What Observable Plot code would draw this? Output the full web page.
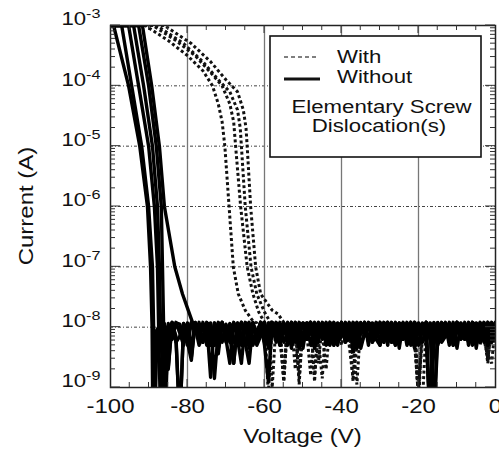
<!DOCTYPE html>
<html><head><meta charset="utf-8">
<script src="https://cdn.jsdelivr.net/npm/d3@7"></script>
<script src="https://cdn.jsdelivr.net/npm/@observablehq/plot@0.6"></script>
<style>
html,body{margin:0;padding:0;background:#fff;}
#chart svg{display:block;}
</style></head>
<body><div id="chart"></div>
<script>
// ---------- axis ticks ----------
const xTickValues = [-100, -80, -60, -40, -20, 0];
const xGridValues = [-80, -60, -40, -20];
const yTickValues = [1e-9, 1e-8, 1e-7, 1e-6, 1e-5, 1e-4, 1e-3];
const yGridValues = [1e-8, 1e-7, 1e-6, 1e-5, 1e-4];
const legendLabels = ["With", "Without"];
const legendTitle = ["Elementary Screw", "Dislocation(s)"];

// ---------- "Without" curves: [voltage, log10(current)] ----------
const without1 = [[-100,-3],[-99.2,-3],[-95.3,-4],[-92.4,-5],[-90.4,-6],[-89.6,-7],[-89.2,-8]];
const without2 = [[-100,-3],[-97.1,-3],[-94.5,-4],[-91.9,-5],[-90.1,-6],[-89.1,-7],[-88.8,-8],[-88.5,-9.6]];
const without3 = [[-100,-3],[-95.3,-3],[-92.7,-4],[-90.1,-5],[-88.6,-6],[-87.8,-7],[-87.5,-8]];
const without4 = [[-100,-3],[-94,-3],[-91.4,-4],[-89.1,-5],[-87.8,-6],[-87.3,-7],[-87,-8]];
const without5 = [[-100,-3],[-92.7,-3],[-90.1,-4],[-88.1,-5],[-86.8,-6],[-86.5,-7],[-86.2,-8],[-85.8,-9.6]];
const without6 = [[-100,-3],[-91.7,-3],[-89.3,-4],[-87.3,-5],[-86,-6],[-83.3,-7],[-81.3,-7.45],[-78.7,-7.92]];

// noise floor, log10(current) at 1 V steps, starting voltage given
const without1FloorStart = -89;
const without1Floor = [-9.6,-8.05,-7.95,-8.2,-8.7,-7.93,-8.15,-9.6,-7.94,-8.25,
 -8.55,-7.92,-8.15,-7.95,-8.3,-7.93,-8.85,-8.05,-7.92,-8.2,
 -8.6,-7.94,-8.1,-7.92,-8.25,-8.6,-7.93,-8.15,-7.92,-8.3,
 -8.9,-7.93,-8.2,-7.92,-8.1,-7.95,-8.35,-7.92,-8.15,-7.93,
 -8.2,-7.92,-8.3,-7.94,-8.1,-7.92,-8.25,-7.93,-8.15,-7.92,
 -8.2,-7.94,-8.4,-7.93,-8.1,-7.92,-8.3,-7.93,-8.15,-7.92,
 -8.25,-7.93,-8.1,-7.92,-8.35,-7.94,-8.15,-7.92,-8.2,-7.93,
 -8.1,-7.92,-9.6,-7.94,-8.25,-7.92,-8.15,-7.93,-8.3,-7.92,
 -8.1,-7.94,-8.2,-7.92,-8.35,-7.93,-8.15,-7.92,-8.25,-7.93];
const without2FloorStart = -88;
const without2Floor = [-8.3,-7.93,-9.5,-8.1,-7.92,-8.25,-8.15,-7.94,-8.05,-8.3,
 -7.93,-8.1,-8.2,-7.92,-8.3,-8.1,-7.93,-8.25,-7.95,-8.15,
 -8.6,-7.93,-8.2,-8.05,-7.92,-8.3,-8.1,-7.94,-8.2,-8.15,
 -7.92,-8.25,-8.05,-7.93,-8.3,-8.1,-7.92,-8.2,-8.15,-7.94,
 -8.3,-8.05,-7.92,-8.2,-8.1,-7.93,-8.3,-8.15,-7.92,-8.25,
 -8.05,-7.94,-8.35,-8.1,-7.92,-8.2,-8.15,-7.93,-8.3,-8.05,
 -7.92,-8.25,-8.1,-7.94,-8.2,-8.15,-7.92,-8.3,-8.05,-7.93,
 -8.2,-9.5,-7.92,-8.3,-8.1,-7.94,-8.25,-8.05,-7.92,-8.2,
 -8.15,-7.93,-8.3,-8.1,-7.92,-8.25,-8.05,-7.94,-8.2];
const without3FloorStart = -87;
const without3Floor = [-9.5,-7.94,-8.67,-7.92,-8.2,-9.6,-7.95,-8.3,-7.93,-8.1,
 -7.92,-8.25,-7.94,-8.83,-7.93,-8.44,-7.92,-8.15,-7.95,-8.6,
 -7.93,-8.2,-7.92,-8.35,-7.94,-8.1,-7.92,-8.25,-7.93,-8.15,
 -7.92,-8.3,-7.94,-8.1,-7.93,-8.2,-7.92,-8.35,-7.93,-8.1,
 -7.92,-8.25,-7.94,-8.15,-7.92,-8.3,-7.93,-8.1,-7.92,-8.2,
 -7.93,-8.35,-7.92,-8.15,-7.94,-8.25,-7.92,-8.1,-7.93,-8.3,
 -7.92,-8.15,-7.94,-8.2,-7.93,-8.3,-7.92,-8.1,-7.94,-8.25,
 -7.93,-9.6,-7.92,-8.2,-7.94,-8.1,-7.92,-8.35,-7.93,-8.15,
 -7.92,-8.25,-7.94,-8.1,-7.93,-8.3,-7.92,-8.05];
const without4FloorStart = -86;
const without4Floor = [-7.96,-8.1,-8.2,-7.93,-7.95,-8.25,-8.1,-7.92,-8.0,-8.3,
 -8.15,-7.93,-7.96,-8.2,-8.35,-7.94,-8.05,-8.25,-7.92,-8.1,
 -8.3,-7.93,-7.95,-8.2,-8.1,-7.92,-8.0,-8.3,-8.15,-7.93,
 -7.96,-8.25,-8.1,-7.92,-8.05,-8.35,-8.1,-7.93,-7.95,-8.2,
 -8.15,-7.92,-8.0,-8.3,-8.1,-7.94,-7.96,-8.25,-8.15,-7.92,
 -8.05,-8.35,-8.1,-7.93,-7.95,-8.2,-8.3,-7.92,-8.0,-8.25,
 -8.1,-7.93,-7.96,-8.3,-8.15,-7.92,-8.05,-8.25,-8.1,-7.94,
 -9.5,-8.2,-7.93,-7.96,-8.3,-8.1,-7.92,-8.05,-8.2,-8.1,
 -7.93,-7.95,-8.25,-8.15,-7.92,-8.0,-8.1];
const without5FloorStart = -85;
const without5Floor = [-7.94,-8.2,-7.92,-8.1,-8.3,-7.93,-8.5,-7.92,-8.15,-8.25,
 -7.93,-8.05,-8.3,-7.92,-8.2,-8.1,-7.94,-8.25,-8.05,-7.92,
 -8.3,-8.15,-7.93,-8.2,-8.05,-7.92,-8.35,-8.1,-7.94,-8.2,
 -8.05,-7.92,-8.3,-8.15,-7.93,-8.25,-8.1,-7.92,-8.2,-8.05,
 -7.94,-8.3,-8.1,-7.92,-8.25,-8.15,-7.93,-8.2,-8.05,-7.92,
 -8.3,-8.1,-7.94,-8.2,-8.15,-7.92,-8.25,-8.05,-7.93,-8.3,
 -8.1,-7.92,-8.2,-8.15,-7.94,-8.3,-8.05,-7.92,-8.2,-8.1,
 -7.93,-8.25,-8.15,-7.92,-8.3,-8.05,-7.94,-8.2,-8.1,-7.92,
 -8.25,-8.15,-7.93,-8.3,-8.05,-7.92];
const without6FloorStart = -78;
const without6Floor = [-7.95,-8.2,-7.92,-8.1,-8.3,-7.93,-8.15,-7.92,-8.25,-8.05,
 -7.93,-8.2,-8.6,-7.94,-8.1,-7.92,-8.3,-8.15,-7.93,-8.2,
 -7.92,-8.1,-8.3,-7.94,-8.15,-7.92,-8.25,-8.05,-7.93,-8.2,
 -7.92,-8.35,-8.1,-7.93,-8.2,-7.92,-8.15,-8.3,-7.94,-8.1,
 -7.92,-8.2,-8.3,-7.93,-8.1,-7.92,-8.25,-8.15,-7.94,-8.2,
 -7.92,-8.1,-8.3,-7.93,-8.2,-7.92,-8.15,-8.35,-7.94,-8.1,
 -7.92,-9.6,-8.3,-7.93,-8.15,-7.92,-8.25,-8.1,-7.94,-8.2,
 -7.92,-8.3,-8.1,-7.93,-8.2,-7.92,-8.15,-8.25,-7.94];

// ---------- "With" curves ----------
const with1 = [[-100,-3],[-91,-3],[-85,-3.25],[-80,-3.5],[-76,-3.75],[-73.5,-4],[-72,-4.3],[-71,-4.6],[-70.3,-5],[-69.2,-6],[-68.1,-7],[-66.8,-7.45],[-65,-7.72],[-63,-7.9]];
const with2 = [[-100,-3],[-89,-3],[-83,-3.25],[-78,-3.5],[-74,-3.78],[-71,-4],[-69,-4.3],[-68,-4.6],[-67.5,-5],[-66.2,-6],[-64.5,-7],[-63,-7.45],[-61.5,-7.75],[-60,-7.92]];
const with3 = [[-100,-3],[-88,-3],[-81,-3.3],[-76,-3.6],[-72,-3.9],[-69,-4.1],[-67,-4.4],[-66.3,-4.7],[-66,-5],[-65,-6],[-63.5,-7],[-62,-7.45],[-60,-7.75],[-58.5,-7.92]];
const with4 = [[-100,-3],[-86,-3],[-79,-3.3],[-74,-3.6],[-70,-3.9],[-67,-4.1],[-65.5,-4.4],[-64.8,-4.7],[-64.5,-5],[-63.6,-6],[-62.3,-7],[-61,-7.45],[-58,-7.72],[-56.5,-7.78],[-55,-7.92]];

const with1FloorStart = -62;
const with1Floor = [-7.93,-8.1,-7.92,-9.1,-7.95,-8.2,-7.93,-8.9,-7.92,-8.15,
 -7.94,-8.85,-7.92,-8.2,-7.93,-8.8,-7.92,-8.1,-7.94,-8.25,
 -7.92,-8.1,-7.93,-8.2,-7.92,-8.3,-8.95,-7.93,-8.1,-7.92,
 -8.2,-7.94,-8.1,-7.92,-8.3,-7.93,-8.15,-7.92,-8.2,-7.94,
 -8.1,-7.92,-9.3,-7.93,-8.2,-7.92,-8.1,-7.94,-8.25,-7.92,
 -8.15,-7.93,-8.2,-7.92,-8.1,-7.94,-8.3,-7.92,-8.15,-7.93,
 -8.55,-7.92,-8.1];
const with2FloorStart = -59;
const with2Floor = [-7.92,-9.0,-7.93,-8.2,-8.8,-7.92,-8.1,-7.94,-8.95,-7.92,
 -8.2,-7.93,-8.9,-7.92,-8.1,-8.7,-7.93,-8.2,-7.92,-8.15,
 -7.94,-8.3,-8.85,-7.92,-8.1,-7.93,-8.25,-7.92,-8.1,-7.94,
 -8.2,-7.92,-8.1,-7.93,-8.3,-7.92,-8.15,-7.94,-8.2,-9.2,
 -9.3,-7.93,-8.1,-7.92,-8.25,-7.94,-8.1,-7.92,-8.2,-7.93,
 -8.15,-7.92,-8.3,-7.94,-8.1,-7.92,-8.2,-8.5,-7.93,-8.1];
const with3FloorStart = -57;
const with3Floor = [-7.93,-8.1,-8.9,-7.92,-8.2,-7.94,-8.75,-7.92,-8.1,-8.8,
 -7.93,-8.2,-8.85,-7.92,-8.1,-7.94,-8.25,-7.92,-8.1,-7.93,
 -8.9,-8.3,-7.92,-8.15,-7.94,-8.2,-7.92,-8.1,-7.93,-8.25,
 -7.92,-8.1,-7.94,-8.2,-7.92,-8.15,-7.93,-9.0,-8.2,-7.92,
 -8.1,-7.94,-8.25,-7.92,-8.1,-7.93,-8.2,-7.92,-8.15,-7.94,
 -8.1,-7.92,-8.25,-7.93,-8.1,-8.6,-7.92,-8.15];
const with4FloorStart = -54;
const with4Floor = [-8.1,-7.93,-8.7,-7.92,-8.2,-7.94,-8.1,-7.92,-8.6,-7.93,
 -8.2,-7.92,-8.1,-7.94,-8.3,-7.92,-8.15,-8.5,-7.93,-8.1,
 -7.92,-8.2,-7.94,-8.1,-7.92,-8.25,-7.93,-8.1,-7.92,-8.2,
 -7.94,-8.1,-7.92,-8.3,-9.1,-7.93,-8.15,-7.92,-8.2,-7.94,
 -8.1,-7.92,-8.25,-7.93,-8.1,-7.92,-8.2,-7.94,-8.1,-7.92,
 -8.3,-7.93,-8.45,-8.6,-7.92];

// ---------- build tables ----------
function build(name, trans, floorStart, floor) {
  const pts = trans.map(([v, e]) => ({v, i: Math.pow(10, e), curve: name}));
  if (floor) floor.forEach((e, k) => pts.push({v: floorStart + k, i: Math.pow(10, e), curve: name}));
  return pts;
}
const withoutData = [
  ...build("w1", without1, without1FloorStart, without1Floor),
  ...build("w2", without2, without2FloorStart, without2Floor),
  ...build("w3", without3, without3FloorStart, without3Floor),
  ...build("w4", without4, without4FloorStart, without4Floor),
  ...build("w5", without5, without5FloorStart, without5Floor),
  ...build("w6", without6, without6FloorStart, without6Floor)
];
const withData = [
  ...build("d1", with1, with1FloorStart, with1Floor),
  ...build("d2", with2, with2FloorStart, with2Floor),
  ...build("d3", with3, with3FloorStart, with3Floor),
  ...build("d4", with4, with4FloorStart, with4Floor)
];

const FONT = "'Liberation Sans', Arial, Helvetica, sans-serif";
const STRETCH = 1.2;

const plot = Plot.plot({
  width: 499, height: 452,
  marginLeft: 110, marginRight: 4, marginTop: 25, marginBottom: 65,
  style: {fontFamily: FONT, background: "#fff", color: "#111", overflow: "visible"},
  x: {domain: [-100, 0]},
  y: {type: "log", domain: [1e-9, 1e-3]},
  marks: [
    Plot.gridY(yGridValues, {stroke: "#444", strokeOpacity: 1, strokeWidth: 1, strokeDasharray: "3,2,1,2"}),
    Plot.gridX(xGridValues, {stroke: "#777", strokeOpacity: 1, strokeWidth: 1.3}),
    Plot.line(withData, {x: "v", y: "i", z: "curve", stroke: "#111", strokeWidth: 3, strokeDasharray: "3,2.6",
      strokeLinecap: "butt", strokeLinejoin: "miter", clip: true}),
    Plot.line(withoutData, {x: "v", y: "i", z: "curve", stroke: "#000", strokeWidth: 3.4, clip: true}),
    Plot.axisX(xTickValues, {anchor: "bottom", tickSize: 0, tickPadding: 11, fontSize: 20, label: null, tickFormat: d => String(d)}),
    Plot.axisY(yTickValues, {anchor: "left", tickSize: 0, tickPadding: 10, fontSize: 18.5, dy: -6, label: null,
      tickFormat: d => String(Math.round(Math.log10(d)))}),
    Plot.frame({stroke: "#222", strokeWidth: 1.5})
  ]
});
document.getElementById("chart").appendChild(plot);

const svg = d3.select(plot);
const sx = plot.scale("x"), sy = plot.scale("y");

// superscript exponents on y tick labels
svg.selectAll('g[aria-label="y-axis tick label"] text').each(function () {
  const exp = this.textContent;
  const t = d3.select(this);
  t.text(null);
  t.append("tspan").text("10");
  t.append("tspan").attr("font-size", 13.5).attr("dy", -7).text(exp);
});

// inward ticks
const tickG = svg.append("g").attr("stroke", "#333").attr("stroke-width", 1);
const [x0, x1] = sx.range;
const [yb, yt] = sy.range;
for (let v = -95; v < 0; v += 5) {
  const px = sx.apply(v);
  const len = v % 20 === 0 ? 8 : 5;
  tickG.append("line").attr("x1", px).attr("x2", px).attr("y1", yb).attr("y2", yb - len);
  tickG.append("line").attr("x1", px).attr("x2", px).attr("y1", yt).attr("y2", yt + len);
}
for (let n = -9; n <= -3; n++) {
  for (let m = 1; m <= 9; m++) {
    const val = m * Math.pow(10, n);
    if (val > 1.0001e-3) break;
    const py = sy.apply(val);
    const len = m === 1 ? 10 : 5;
    tickG.append("line").attr("x1", x0).attr("x2", x0 + len).attr("y1", py).attr("y2", py);
    tickG.append("line").attr("x1", x1).attr("x2", x1 - len).attr("y1", py).attr("y2", py);
  }
}

// axis titles
svg.append("text").attr("font-family", FONT).attr("font-size", 20).attr("fill", "#111")
  .attr("text-anchor", "middle").attr("transform", `translate(${(x0 + x1) / 2},443)`).text("Voltage (V)");
svg.append("text").attr("font-family", FONT).attr("font-size", 20).attr("fill", "#111")
  .attr("text-anchor", "middle").attr("transform", `translate(33,${(yb + yt) / 2}) rotate(-90)`).text("Current (A)");

// legend box
const lg = svg.append("g").attr("font-family", FONT).attr("fill", "#111").attr("text-anchor", "start");
lg.append("rect").attr("x", 270).attr("y", 36).attr("width", 211).attr("height", 121)
  .attr("fill", "#fff").attr("stroke", "#111").attr("stroke-width", 1.6);
lg.append("line").attr("x1", 284).attr("x2", 318).attr("y1", 57).attr("y2", 57)
  .attr("stroke", "#555").attr("stroke-width", 1.5).attr("stroke-dasharray", "4,3");
lg.append("line").attr("x1", 284).attr("x2", 320).attr("y1", 79).attr("y2", 79)
  .attr("stroke", "#111").attr("stroke-width", 3);
lg.append("text").attr("font-size", 18.5).attr("text-anchor", "start").attr("transform", "translate(337,63)").text(legendLabels[0]);
lg.append("text").attr("font-size", 18.5).attr("text-anchor", "start").attr("transform", "translate(337,83)").text(legendLabels[1]);
lg.append("text").attr("font-size", 18.5).attr("text-anchor", "middle").attr("transform", "translate(381.5,113)").text(legendTitle[0]);
lg.append("text").attr("font-size", 18.5).attr("text-anchor", "middle").attr("transform", "translate(379,132)").text(legendTitle[1]);

// horizontal stretch of all text (original typeface is wide)
svg.selectAll("text").each(function () {
  const tx = parseFloat(this.getAttribute("x")) || 0;
  const tr = this.getAttribute("transform") || "";
  this.setAttribute("transform", `${tr} translate(${tx},0) scale(${STRETCH},1) translate(${-tx},0)`);
});
</script>
</body></html>
